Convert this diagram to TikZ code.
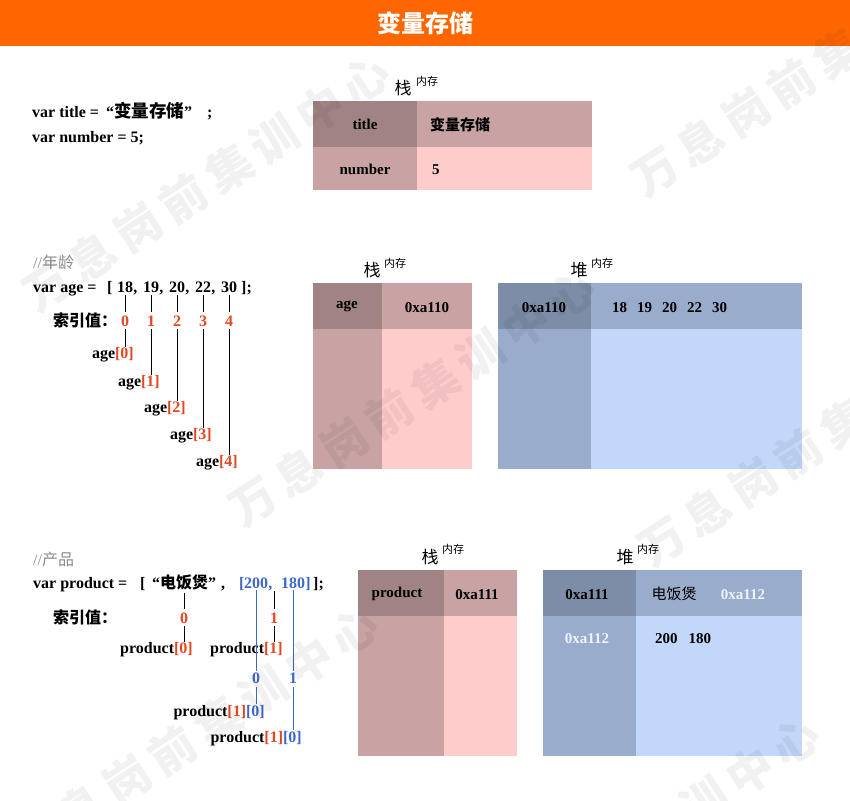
\documentclass[tikz,border=0pt]{standalone}
\usepackage{fontspec}
\setmainfont{Liberation Serif}
\newfontfamily\cjk{Noto Sans CJK SC}
\newfontfamily\cjkwm[LetterSpace=18]{Noto Sans CJK SC}
\definecolor{barorange}{RGB}{255,102,0}
\definecolor{sdark}{RGB}{161,131,131}
\definecolor{smid}{RGB}{201,163,163}
\definecolor{slight}{RGB}{255,204,204}
\definecolor{hdark}{RGB}{125,141,168}
\definecolor{hmid}{RGB}{154,172,204}
\definecolor{hlight}{RGB}{193,216,251}
\definecolor{idxred}{RGB}{228,72,35}
\definecolor{idxblue}{RGB}{60,105,200}
\definecolor{cmtgray}{RGB}{140,140,140}
\definecolor{whitish}{RGB}{238,243,255}
\tikzset{
  code/.style={font=\fontsize{16}{19}\selectfont\bfseries, inner sep=0pt, anchor=base west},
  cmt/.style={font=\fontsize{16}{19}\selectfont, text=cmtgray, inner sep=0pt, anchor=base west},
  idx/.style={font=\fontsize{16}{19}\selectfont\bfseries, text=idxred, inner sep=0pt, anchor=base},
  idxb/.style={idx, text=idxblue},
  cell/.style={font=\fontsize{15}{18}\selectfont\bfseries, inner sep=0pt, anchor=base},
  hdr/.style={font=\cjk\fontsize{17}{17}\selectfont, inner sep=0pt},
  hsup/.style={font=\cjk\fontsize{11}{11}\selectfont, inner sep=0pt},
  conn/.style={draw=black, line width=1pt, shorten <=3pt, shorten >=3pt},
  connb/.style={conn, draw=idxblue},
  wm/.style={font=\fontsize{46}{46}\selectfont\cjkwm\bfseries, text=black, text opacity=0.055, inner sep=0pt, rotate=33},
  titletext/.style={font=\fontsize{24}{24}\selectfont\cjk\bfseries, text=white, inner sep=0pt}
}
\begin{document}
\begin{tikzpicture}[x=1pt,y=-1pt]
\useasboundingbox (0,0) rectangle (850,800);
\fill[white] (0,0) rectangle (850,800);
% title bar
\fill[barorange] (0,0) rectangle (850,46);
\node[titletext] (title) at (425,23) {变量存储};

% ---------- section 1 ----------
\node[code] (l1a) at (32,117) {var title =};
\node[code] (l1b) at (106,117) {“{\cjk\fontsize{17.5}{19}\selectfont 变量存储}”};
\node[code] (l1c) at (207,117) {;};
\node[code] (l2) at (32,142) {var number = 5;};

\node[hdr] (h1) at (403,88) {栈};
\node[hsup] (h1s) at (427,81) {内存};
\fill[sdark] (313,101) rectangle (417,147);
\fill[smid] (417,101) rectangle (592,147);
\fill[smid] (313,147) rectangle (417,190);
\fill[slight] (417,147) rectangle (592,190);
\node[cell] (t1k) at (365,129) {title};
\node[cell, anchor=base west] (t1v) at (430,130) {{\cjk 变量存储}};
\node[cell] (t2k) at (365,174) {number};
\node[cell, anchor=base west] (t2v) at (432,174) {5};

% ---------- section 2 ----------
\node[cmt] (c2) at (33,268) {//{\cjk 年龄}};
\node[code] (v2a) at (33,292) {var age =};
\node[code] (v2b) at (107,292) {[};
\node[code, anchor=base] (n18) at (125,292) {18};
\node[code] at (n18.base east) {,};
\node[code, anchor=base] (n19) at (151,292) {19};
\node[code] at (n19.base east) {,};
\node[code, anchor=base] (n20) at (177,292) {20};
\node[code] at (n20.base east) {,};
\node[code, anchor=base] (n22) at (203,292) {22};
\node[code] at (n22.base east) {,};
\node[code, anchor=base] (n30) at (229,292) {30};
\node[code] (v2c) at (241,292) {];};

\node[code] (k2) at (53,326) {{\cjk 索引值：}};
\node[idx] (i0) at (125,326) {0};
\node[idx] (i1) at (151,326) {1};
\node[idx] (i2) at (177,326) {2};
\node[idx] (i3) at (203,326) {3};
\node[idx] (i4) at (229,326) {4};

\node[code, anchor=base east] (a0) at (134,358) {age{\color{idxred}[0]}};
\node[code, anchor=base east] (a1) at (160,386) {age{\color{idxred}[1]}};
\node[code, anchor=base east] (a2) at (186,412) {age{\color{idxred}[2]}};
\node[code, anchor=base east] (a3) at (212,439) {age{\color{idxred}[3]}};
\node[code, anchor=base east] (a4) at (238,466) {age{\color{idxred}[4]}};

\draw[conn] (n18.south) -- (i0.north);
\draw[conn] (n19.south) -- (i1.north);
\draw[conn] (n20.south) -- (i2.north);
\draw[conn] (n22.south) -- (i3.north);
\draw[conn] (n30.south) -- (i4.north);
\draw[conn, shorten >=0pt] (i0.south) -- (i0.south |- a0.north);
\draw[conn, shorten >=0pt] (i1.south) -- (i1.south |- a1.north);
\draw[conn, shorten >=0pt] (i2.south) -- (i2.south |- a2.north);
\draw[conn, shorten >=0pt] (i3.south) -- (i3.south |- a3.north);
\draw[conn, shorten >=0pt] (i4.south) -- (i4.south |- a4.north);

% stack 2
\node[hdr] (h2) at (372,270) {栈};
\node[hsup] (h2s) at (395,263) {内存};
\fill[sdark] (313,283) rectangle (382,329);
\fill[smid] (382,283) rectangle (472,329);
\fill[smid] (313,329) rectangle (382,469);
\fill[slight] (382,329) rectangle (472,469);
\node[cell] (s2k) at (347,308) {age};
\node[cell] (s2v) at (427,312) {0xa110};
% heap 2
\node[hdr] (h3) at (579,270) {堆};
\node[hsup] (h3s) at (602,263) {内存};
\fill[hdark] (498,283) rectangle (591,329);
\fill[hmid] (591,283) rectangle (802,329);
\fill[hmid] (498,329) rectangle (591,469);
\fill[hlight] (591,329) rectangle (802,469);
\node[cell] (e2k) at (544,312) {0xa110};
\node[cell, anchor=base west] (e2v) at (612,312) {18\hspace{10pt}19\hspace{10pt}20\hspace{10pt}22\hspace{10pt}30};

% ---------- section 3 ----------
\node[cmt] (c3) at (33,565) {//{\cjk 产品}};
\node[code] (v3a) at (33,588) {var product =};
\node[code] (v3b) at (140,588) {[};
\node[code, anchor=base] (pstr) at (184,588) {“{\cjk 电饭煲}”};
\node[code] (v3c) at (221,588) {,};
\node[code, text=idxblue] (v3d) at (239,588) {[};
\node[code, anchor=base, text=idxblue] (p200) at (256,588) {200};
\node[code, text=idxblue] at (p200.base east) {,};
\node[code, anchor=base, text=idxblue] (p180) at (293,588) {180};
\node[code, text=idxblue] (v3e) at (p180.base east) {]};
\node[code] (v3f) at (313,588) {];};
\coordinate (c274) at (274,591);

\node[code] (k3) at (53,623) {{\cjk 索引值：}};
\node[idx] (q0) at (184,623) {0};
\node[idx] (q1) at (274,623) {1};
\node[idxb] (b0) at (256,683) {0};
\node[idxb] (b1) at (293,683) {1};

\node[code, anchor=base east] (pr0) at (193,653) {product{\color{idxred}[0]}};
\node[code, anchor=base east] (pr1) at (283,653) {product{\color{idxred}[1]}};
\node[code, anchor=base east] (pr10a) at (265,716) {product{\color{idxred}[1]}{\color{idxblue}[0]}};
\node[code, anchor=base east] (pr10b) at (302,742) {product{\color{idxred}[1]}{\color{idxblue}[0]}};

\draw[conn] (pstr.south) -- (q0.north);
\draw[conn, shorten <=0pt] (c274) -- (q1.north);
\draw[conn, shorten >=0pt] (q0.south) -- (q0.south |- pr0.north);
\draw[conn, shorten >=0pt] (q1.south) -- (q1.south |- pr1.north);
\draw[connb, shorten <=2pt, shorten >=1pt] (p200.south) -- (b0.north);
\draw[connb, shorten <=2pt, shorten >=1pt] (p180.south) -- (b1.north);
\draw[connb, shorten <=4pt, shorten >=1pt] (b0.south) -- (b0.south |- pr10a.north);
\draw[connb, shorten <=4pt, shorten >=1pt] (b1.south) -- (b1.south |- pr10b.north);

% stack 3
\node[hdr] (h4) at (430,557) {栈};
\node[hsup] (h4s) at (453,549) {内存};
\fill[sdark] (358,570) rectangle (444,616);
\fill[smid] (444,570) rectangle (517,616);
\fill[smid] (358,616) rectangle (444,756);
\fill[slight] (444,616) rectangle (517,756);
\node[cell] (s3k) at (397,597) {product};
\node[cell] (s3v) at (477,599) {0xa111};
% heap 3
\node[hdr] (h5) at (625,557) {堆};
\node[hsup] (h5s) at (648,549) {内存};
\fill[hdark] (543,570) rectangle (636,616);
\fill[hmid] (636,570) rectangle (802,616);
\fill[hmid] (543,616) rectangle (636,756);
\fill[hlight] (636,616) rectangle (802,756);
\node[cell] (e3k) at (587,599) {0xa111};
\node[cell] (e3v) at (674,599) {{\cjk\mdseries 电饭煲}};
\node[cell, text=whitish] (e3p) at (743,599) {0xa112};
\node[cell, text=whitish] (e4k) at (587,643) {0xa112};
\node[cell, anchor=base west] (e4v) at (655,643) {200\hspace{11pt}180};

% ---------- watermark ----------
\node[wm] (wm1) at (206,183) {万息岗前集训中心};
\node[wm] (wm2) at (814,68) {万息岗前集训中心};
\node[wm] (wm3) at (412,398) {万息岗前集训中心};
\node[wm] (wm4) at (821,438) {万息岗前集训中心};
\node[wm] (wm5) at (195,735) {万息岗前集训中心};
\node[wm] (wm6) at (636,845) {万息岗前集训中心};
\end{tikzpicture}
\end{document}
